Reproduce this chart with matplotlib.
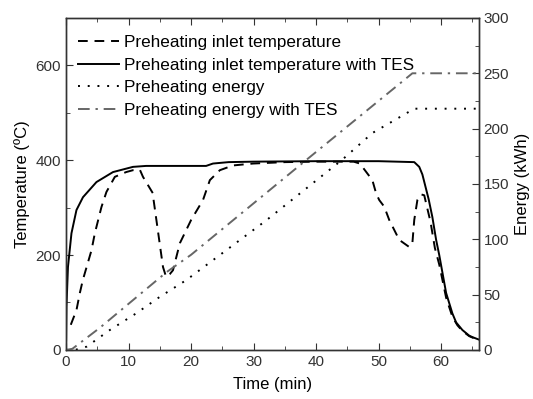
import matplotlib
matplotlib.use("Agg")
import matplotlib.pyplot as plt
from matplotlib.ticker import MultipleLocator

plt.rcParams["font.family"] = ["Liberation Sans", "DejaVu Sans"]

# ==========================
# Data
# ==========================
t_inlet = [0.75, 1.66, 2.2, 2.67, 4.06, 4.6, 5.65, 6.45, 7.8, 9.6, 10.7, 11.8, 12.3,
           13.9, 14.0, 15.5, 16.0, 16.6, 17.1, 18.2, 20.0, 21.9, 23.0, 24.6, 26.7,
           29.9, 35.0, 40.0, 46.0, 47.0, 49.0, 49.6, 50.1, 50.9, 51.7, 52.5, 53.3,
           54.9, 55.4, 55.7, 56.2, 56.8, 57.3, 57.6, 58.3, 59.0, 59.7, 60.8, 61.8,
           62.6, 63.4, 64.5, 65.2]
T_inlet = [53, 84, 120, 147, 210, 246, 301, 333, 365, 375, 379, 380, 365,
           330, 316, 175, 154, 160, 168, 225, 274, 316, 358, 379, 389,
           393, 396, 397, 397, 393, 358, 330, 316, 302, 274, 253, 232,
           217, 225, 274, 316, 328, 326, 309, 270, 215, 180, 110, 70,
           52, 40, 29, 25]

t_tes = [0.0, 0.06, 0.3, 0.86, 1.66, 2.7, 4.86, 7.5, 10.7, 12.8, 22.4, 23.5,
         26.0, 30.0, 40.0, 50.0, 55.7, 56.5, 57.0, 58.0, 58.6, 59.2, 59.7,
         60.8, 61.8, 62.4, 63.4, 64.5, 65.0, 66.0]
T_tes = [20, 91, 175, 246, 295, 322, 354, 375, 386, 388, 388, 393,
         396, 397, 398, 398, 396, 386, 370, 318, 280, 232, 200,
         120, 77, 58, 42, 30, 27, 22]

t_energy = [0.0, 2.0, 3.3, 7.0, 11.2, 15.0, 19.2, 32.0, 44.2, 49.0, 55.7, 66.0]
E_energy = [0, 0.5, 3, 18, 33, 48, 63, 117, 172, 196, 218, 218]

t_energy_tes = [0.0, 1.0, 5.4, 16.0, 20.0, 38.5, 55.4, 66.0]
E_energy_tes = [0, 1, 20, 70, 86, 172, 250, 250]

# ==========================
# Chart
# ==========================
fig = plt.figure(figsize=(5.33, 3.99), dpi=100)
ax = fig.add_axes([0.124, 0.123, 0.774, 0.832])
ax2 = ax.twinx()

l1, = ax.plot(t_inlet, T_inlet, color="black", lw=1.4, linestyle=(0, (5, 3.5)),
              label="Preheating inlet temperature")
l2, = ax.plot(t_tes, T_tes, color="black", lw=1.4,
              label="Preheating inlet temperature with TES")
l3, = ax2.plot(t_energy, E_energy, color="black", lw=1.4, linestyle=(0, (1, 4)),
               label="Preheating energy")
l4, = ax2.plot(t_energy_tes, E_energy_tes, color="#666666", lw=1.4,
               linestyle=(0, (6, 3, 1.2, 3)), label="Preheating energy with TES")

ax.set_xlim(0, 66)
ax.set_ylim(0, 700)
ax2.set_ylim(0, 300)

ax.xaxis.set_major_locator(MultipleLocator(10))
ax.xaxis.set_minor_locator(MultipleLocator(5))
ax.yaxis.set_major_locator(MultipleLocator(200))
ax.yaxis.set_minor_locator(MultipleLocator(100))
ax2.yaxis.set_major_locator(MultipleLocator(50))
ax2.yaxis.set_minor_locator(MultipleLocator(25))

ax.tick_params(axis="x", which="both", direction="in", top=True, labelsize=11, colors="#333333")
ax.tick_params(axis="x", which="major", length=5)
ax.tick_params(axis="x", which="minor", length=3)
ax.tick_params(axis="y", which="both", direction="in", labelsize=11, colors="#333333")
ax.tick_params(axis="y", which="major", length=5)
ax.tick_params(axis="y", which="minor", length=3)
ax2.tick_params(axis="y", which="both", direction="in", labelsize=11, colors="#333333")
ax2.tick_params(axis="y", which="major", length=5)
ax2.tick_params(axis="y", which="minor", length=3)

for a in (ax, ax2):
    for s in a.spines.values():
        s.set_color("#333333")
        s.set_linewidth(1.0)

ax.set_xlabel("Time (min)", fontsize=12, labelpad=6)
ax.set_ylabel("Temperature (ºC)", fontsize=12, labelpad=4)
ax2.set_ylabel("Energy (kWh)", fontsize=12, labelpad=4)

ax.legend(handles=[l1, l2, l3, l4], loc="upper left", frameon=False, fontsize=12.3,
          handlelength=2.4, handletextpad=0.3, labelspacing=0.45,
          borderaxespad=0.3, bbox_to_anchor=(0.0, 0.985))

plt.savefig("out.png", dpi=100)
